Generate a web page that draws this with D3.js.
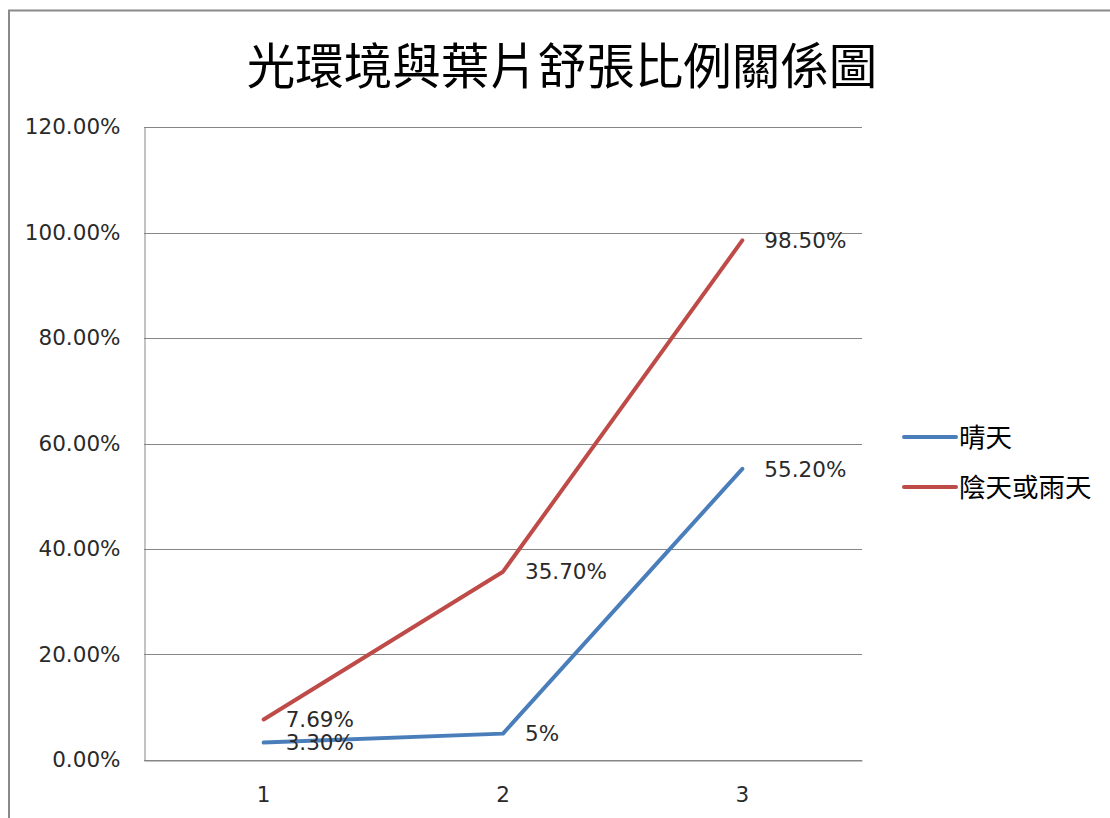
<!DOCTYPE html>
<html>
<head>
<meta charset="utf-8">
<script src="https://cdn.jsdelivr.net/npm/d3@7"></script>
<style>
  html, body { margin: 0; padding: 0; background: #fff; }
  svg { display: block; }
</style>
</head>
<body>
<svg id="chart" width="1110" height="818"></svg>
<script>
// Leaf-opening ratio under different light conditions
const categories = ["1", "2", "3"];
const sunny = [0.033, 0.05, 0.552];          // 晴天
const cloudyRainy = [0.0769, 0.357, 0.985];  // 陰天或雨天
const sunnyLabels = ["3.30%", "5%", "55.20%"];
const cloudyLabels = ["7.69%", "35.70%", "98.50%"];
const yTicks = [0, 0.2, 0.4, 0.6, 0.8, 1.0, 1.2];
const seriesNames = ["晴天", "陰天或雨天"];

const svg = d3.select("#chart");
const W = 1110, H = 818;
const plot = { left: 144, right: 862, top: 127, bottom: 760 };

const latin = "'DejaVu Sans', Verdana, sans-serif";
const cjk = "'Noto Sans CJK TC', 'Noto Sans CJK SC', sans-serif";

// chart area frame (runs off the right and bottom edges)
svg.append("path")
  .attr("d", `M9,${H + 5} L9,10.5 L${W + 5},10.5`)
  .attr("fill", "none")
  .attr("stroke", "#8a8a8a")
  .attr("stroke-width", 2);

// title
svg.append("text")
  .attr("x", 562).attr("y", 84)
  .attr("text-anchor", "middle")
  .attr("font-family", cjk)
  .attr("font-size", 48.5)
  .attr("fill", "#000")
  .text("光環境與葉片舒張比例關係圖");

const x = d3.scaleBand().domain(categories).range([plot.left, plot.right]);
const y = d3.scaleLinear().domain([0, 1.2]).range([plot.bottom, plot.top]);
const cx = d => x(d) + x.bandwidth() / 2;

// horizontal gridlines
svg.append("g")
  .selectAll("line")
  .data(yTicks)
  .join("line")
  .attr("x1", plot.left).attr("x2", plot.right)
  .attr("y1", d => Math.round(y(d)) + 0.5).attr("y2", d => Math.round(y(d)) + 0.5)
  .attr("stroke", "#868686").attr("stroke-width", 1);

// y axis
const yAxis = svg.append("g")
  .attr("transform", `translate(${plot.left + 0.5},0)`)
  .call(d3.axisLeft(y).tickValues(yTicks).tickSize(0).tickPadding(24)
    .tickFormat(d => (d * 100).toFixed(2) + "%"));
yAxis.select(".domain").attr("stroke", "#868686");
yAxis.selectAll("text")
  .attr("font-family", latin).attr("font-size", 21.5).attr("fill", "#2a2a2a");

// x axis
const xAxis = svg.append("g")
  .attr("transform", `translate(0,${plot.bottom + 0.5})`)
  .call(d3.axisBottom(x).tickSize(0).tickPadding(26));
xAxis.select(".domain").attr("stroke", "#868686");
xAxis.selectAll("text")
  .attr("font-family", latin).attr("font-size", 21.5).attr("fill", "#2a2a2a");

const line = d3.line().x((d, i) => cx(categories[i])).y(d => y(d));

const series = [
  { name: seriesNames[0], values: sunny, labels: sunnyLabels, color: "#4a7ebb" },
  { name: seriesNames[1], values: cloudyRainy, labels: cloudyLabels, color: "#be4b48" }
];

series.forEach(s => {
  svg.append("path")
    .datum(s.values)
    .attr("d", line)
    .attr("fill", "none")
    .attr("stroke", s.color)
    .attr("stroke-width", 4)
    .attr("stroke-linecap", "round")
    .attr("stroke-linejoin", "round");
});

// data labels, to the right of each point
series.forEach(s => {
  svg.append("g")
    .selectAll("text")
    .data(s.values)
    .join("text")
    .attr("x", (d, i) => cx(categories[i]) + 22)
    .attr("y", d => y(d))
    .attr("dy", "0.36em")
    .attr("font-family", latin)
    .attr("font-size", 21.5)
    .attr("fill", "#2a2a2a")
    .text((d, i) => s.labels[i]);
});

// legend
const legend = svg.append("g");
series.forEach((s, i) => {
  const ly = 437 + i * 50;
  legend.append("line")
    .attr("x1", 904).attr("x2", 956)
    .attr("y1", ly).attr("y2", ly)
    .attr("stroke", s.color).attr("stroke-width", 4)
    .attr("stroke-linecap", "round");
  legend.append("text")
    .attr("x", 959).attr("y", ly)
    .attr("dy", "0.36em")
    .attr("font-family", cjk)
    .attr("font-size", 26.5)
    .attr("fill", "#000")
    .text(s.name);
});
</script>
</body>
</html>
